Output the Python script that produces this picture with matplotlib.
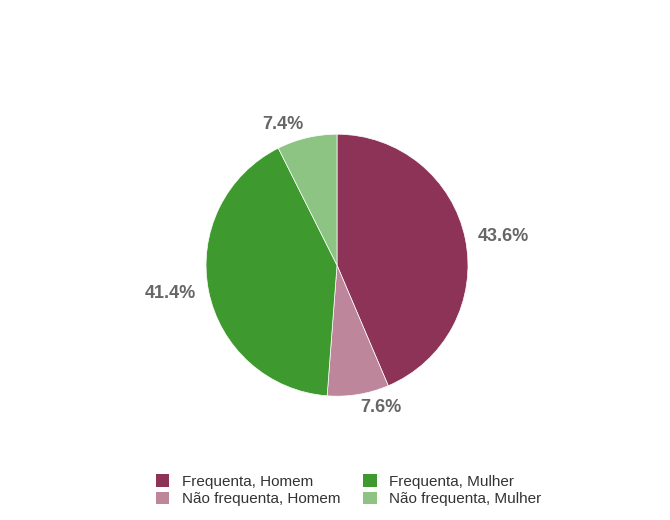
import matplotlib
matplotlib.use('Agg')
import matplotlib.pyplot as plt
from matplotlib.patches import Patch

labels = ['Frequenta, Homem', 'Não frequenta, Homem', 'Frequenta, Mulher', 'Não frequenta, Mulher']
values = [43.6, 7.6, 41.4, 7.4]
colors = ['#8c3357', '#bd869b', '#3e9a2f', '#8dc484']

plt.rcParams['font.family'] = ['Liberation Sans', 'DejaVu Sans']

fig = plt.figure(figsize=(6.7, 5.2), dpi=100)
ax = fig.add_axes([0.503 - 0.1955, 0.49 - 0.252, 0.391, 0.504])
ax.pie(values, colors=colors, startangle=90, counterclock=False,
       labels=[f'{v}%' for v in values], labeldistance=1.1,
       textprops=dict(fontsize=13, fontweight='bold', color='#666666'),
       wedgeprops=dict(linewidth=0.5, edgecolor='white'))
ax.set_xlim(-1, 1)
ax.set_ylim(-1, 1)
ax.set_aspect('equal')

handles = [Patch(facecolor=c, label=l) for c, l in zip(colors, labels)]
fig.legend(handles, labels,
           loc='lower center', bbox_to_anchor=(0.52, 0.0), ncol=2, frameon=False,
           fontsize=11, handlelength=0.9, handleheight=0.9, columnspacing=1.5,
           labelspacing=0.2, labelcolor='#333333')

fig.savefig('out.png', dpi=100)
